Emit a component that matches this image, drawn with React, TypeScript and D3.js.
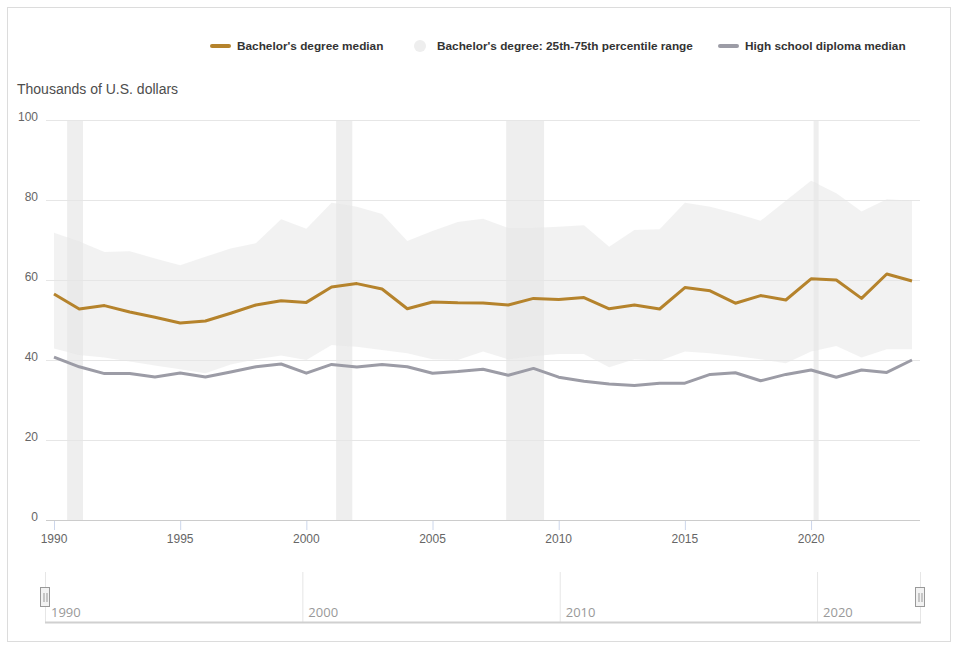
import { useEffect, useRef } from "react";
import * as d3 from "d3";

// ── Data (thousands of U.S. dollars) ──────────────────────────────────────
const YEARS = d3.range(1990, 2025);

const BACHELOR_MEDIAN = [
  56.5, 52.75, 53.6, 52.0, 50.7, 49.25, 49.75, 51.7, 53.75, 54.8,
  54.4, 58.25, 59.1, 57.75, 52.8, 54.5, 54.3, 54.25, 53.75, 55.4,
  55.1, 55.6, 52.8, 53.75, 52.75, 58.1, 57.3, 54.2, 56.1, 55.0,
  60.3, 60.0, 55.4, 61.5, 59.75,
];

const BACHELOR_P25 = [
  42.9, 41.25, 40.6, 39.6, 38.6, 37.7, 36.7, 38.9, 40.2, 41.1,
  40.0, 43.75, 43.3, 42.5, 41.7, 40.2, 40.0, 42.1, 40.2, 41.0,
  41.5, 41.5, 38.2, 40.2, 39.8, 42.1, 41.7, 41.0, 40.2, 39.2,
  42.1, 43.5, 40.6, 42.7, 42.7,
];

const BACHELOR_P75 = [
  71.8, 69.6, 67.0, 67.2, 65.4, 63.7, 65.8, 67.9, 69.2, 75.2,
  72.8, 79.3, 78.3, 76.5, 69.75, 72.25, 74.5, 75.3, 73.0, 73.0,
  73.3, 73.7, 68.3, 72.5, 72.7, 79.3, 78.3, 76.7, 74.8, 79.8,
  84.8, 81.7, 77.1, 80.2, 79.8,
];

const HIGH_SCHOOL_MEDIAN = [
  40.7, 38.3, 36.6, 36.6, 35.75, 36.75, 35.75, 37.0, 38.3, 39.0,
  36.7, 38.9, 38.25, 38.9, 38.3, 36.7, 37.1, 37.7, 36.2, 37.9,
  35.7, 34.7, 34.0, 33.6, 34.2, 34.2, 36.4, 36.8, 34.8, 36.4,
  37.5, 35.7, 37.5, 36.9, 40.0,
];

// Recessions as decimal years [start, end]
const RECESSIONS: [number, number][] = [
  [1990.52, 1991.15],
  [2001.18, 2001.82],
  [2007.92, 2009.42],
  [2020.1, 2020.3],
];

const Y_TICKS = [0, 20, 40, 60, 80, 100];
const X_TICKS = [1990, 1995, 2000, 2005, 2010, 2015, 2020];
const NAV_TICKS = [1990, 2000, 2010, 2020];

const W = 958;
const H = 652;
const PLOT = { left: 46, right: 920, top: 120, bottom: 520 };
const NAV = { left: 45, right: 920, top: 572, bottom: 622 };

const GOLD = "#b5832c";
const GREY = "#9c9ca6";
const FONT = "'Liberation Sans', Arial, sans-serif";

export default function App() {
  const svgRef = useRef<SVGSVGElement>(null);

  useEffect(() => {
    if (!svgRef.current) return;
    const svg = d3.select(svgRef.current);
    svg.selectAll("*").remove();

    const x = d3.scaleLinear().domain([1990, 2024]).range([54, 912]);
    const y = d3.scaleLinear().domain([0, 100]).range([PLOT.bottom, PLOT.top]);
    const xNav = d3.scaleLinear().domain([1990, 2024]).range([NAV.left, NAV.right]);

    // ── Frame ──
    svg.append("rect")
      .attr("x", 7.5).attr("y", 7.5)
      .attr("width", 943).attr("height", 634)
      .attr("fill", "#fff")
      .attr("stroke", "#dcdcdc");

    // ── Recession bands ──
    svg.append("g")
      .selectAll("rect")
      .data(RECESSIONS)
      .join("rect")
      .attr("x", (d) => x(d[0]))
      .attr("width", (d) => x(d[1]) - x(d[0]))
      .attr("y", PLOT.top)
      .attr("height", PLOT.bottom - PLOT.top)
      .attr("fill", "#eeeeee");

    // ── Grid lines ──
    svg.append("g")
      .selectAll("line")
      .data(Y_TICKS.filter((t) => t > 0))
      .join("line")
      .attr("x1", PLOT.left).attr("x2", PLOT.right)
      .attr("y1", (d) => y(d) + 0.5).attr("y2", (d) => y(d) + 0.5)
      .attr("stroke", "#e6e6e6");

    // ── Percentile band ──
    const area = d3.area<number>()
      .x((d) => x(d))
      .y0((_, i) => y(BACHELOR_P25[i]))
      .y1((_, i) => y(BACHELOR_P75[i]));
    svg.append("path")
      .attr("d", area(YEARS))
      .attr("fill", "#e6e6e6")
      .attr("fill-opacity", 0.5);

    // ── Lines ──
    const lineOf = (vals: number[]) =>
      d3.line<number>().x((d) => x(d)).y((_, i) => y(vals[i]))(YEARS);

    svg.append("path")
      .attr("d", lineOf(HIGH_SCHOOL_MEDIAN))
      .attr("fill", "none")
      .attr("stroke", GREY)
      .attr("stroke-width", 3)
      .attr("stroke-linejoin", "round");

    svg.append("path")
      .attr("d", lineOf(BACHELOR_MEDIAN))
      .attr("fill", "none")
      .attr("stroke", GOLD)
      .attr("stroke-width", 3)
      .attr("stroke-linejoin", "round");

    // ── X axis ──
    svg.append("line")
      .attr("x1", PLOT.left).attr("x2", PLOT.right)
      .attr("y1", PLOT.bottom + 0.5).attr("y2", PLOT.bottom + 0.5)
      .attr("stroke", "#cccccc");

    const xt = svg.append("g").selectAll("g").data(X_TICKS).join("g");
    xt.append("line")
      .attr("x1", (d) => x(d) + 0.5).attr("x2", (d) => x(d) + 0.5)
      .attr("y1", PLOT.bottom + 1).attr("y2", PLOT.bottom + 10)
      .attr("stroke", "#ccd6eb");
    xt.append("text")
      .attr("x", (d) => x(d))
      .attr("y", PLOT.bottom + 23)
      .attr("text-anchor", "middle")
      .attr("font-family", FONT)
      .attr("font-size", 12)
      .attr("fill", "#666666")
      .text((d) => String(d));

    // ── Y axis labels ──
    svg.append("g")
      .selectAll("text")
      .data(Y_TICKS)
      .join("text")
      .attr("x", 38)
      .attr("y", (d) => y(d) + 1)
      .attr("text-anchor", "end")
      .attr("font-family", FONT)
      .attr("font-size", 12)
      .attr("fill", "#666666")
      .text((d) => String(d));

    svg.append("text")
      .attr("x", 17).attr("y", 94)
      .attr("font-family", FONT)
      .attr("font-size", 14)
      .attr("fill", "#4d4d4d")
      .text("Thousands of U.S. dollars");

    // ── Legend ──
    const legend = svg.append("g").attr("font-family", FONT).attr("font-size", 11.8)
      .attr("font-weight", "bold").attr("fill", "#333333");
    legend.append("line")
      .attr("x1", 212).attr("x2", 229).attr("y1", 46).attr("y2", 46)
      .attr("stroke", GOLD).attr("stroke-width", 4).attr("stroke-linecap", "round");
    legend.append("text").attr("x", 237).attr("y", 50).text("Bachelor's degree median");
    legend.append("circle")
      .attr("cx", 420).attr("cy", 46).attr("r", 6).attr("fill", "#eeeeee");
    legend.append("text").attr("x", 437).attr("y", 50)
      .text("Bachelor's degree: 25th-75th percentile range");
    legend.append("line")
      .attr("x1", 720).attr("x2", 737).attr("y1", 46).attr("y2", 46)
      .attr("stroke", GREY).attr("stroke-width", 4).attr("stroke-linecap", "round");
    legend.append("text").attr("x", 745).attr("y", 50).text("High school diploma median");

    // ── Navigator ──
    const nav = svg.append("g");
    nav.selectAll("line.nt")
      .data(NAV_TICKS)
      .join("line")
      .attr("class", "nt")
      .attr("x1", (d) => xNav(d) + 0.5).attr("x2", (d) => xNav(d) + 0.5)
      .attr("y1", NAV.top).attr("y2", NAV.bottom)
      .attr("stroke", "#e6e6e6");
    nav.append("line")
      .attr("x1", NAV.right + 0.5).attr("x2", NAV.right + 0.5)
      .attr("y1", NAV.top).attr("y2", NAV.bottom)
      .attr("stroke", "#e6e6e6");
    nav.selectAll("text")
      .data(NAV_TICKS)
      .join("text")
      .attr("x", (d) => xNav(d) + 6)
      .attr("y", NAV.bottom - 5)
      .attr("font-family", "'Open Sans', sans-serif")
      .attr("font-size", 13)
      .attr("fill", "#999999")
      .text((d) => String(d));
    nav.append("line")
      .attr("x1", NAV.left).attr("x2", NAV.right + 1)
      .attr("y1", NAV.bottom + 0.5).attr("y2", NAV.bottom + 0.5)
      .attr("stroke", "#d0d0d0").attr("stroke-width", 2);

    // handles
    [NAV.left, NAV.right].forEach((hx) => {
      const h = nav.append("g").attr("transform", `translate(${hx},597)`);
      h.append("rect")
        .attr("x", -4.5).attr("y", -9.5).attr("width", 9).attr("height", 19)
        .attr("fill", "#f2f2f2").attr("stroke", "#999999");
      [-1.5, 1.5].forEach((dx) => {
        h.append("line")
          .attr("x1", dx + 0.5).attr("x2", dx + 0.5).attr("y1", -4).attr("y2", 5)
          .attr("stroke", "#999999");
      });
    });
  }, []);

  return (
    <div style={{ position: "absolute", left: 0, top: 0 }}>
      <svg ref={svgRef} width={W} height={H} style={{ display: "block" }} />
    </div>
  );
}
